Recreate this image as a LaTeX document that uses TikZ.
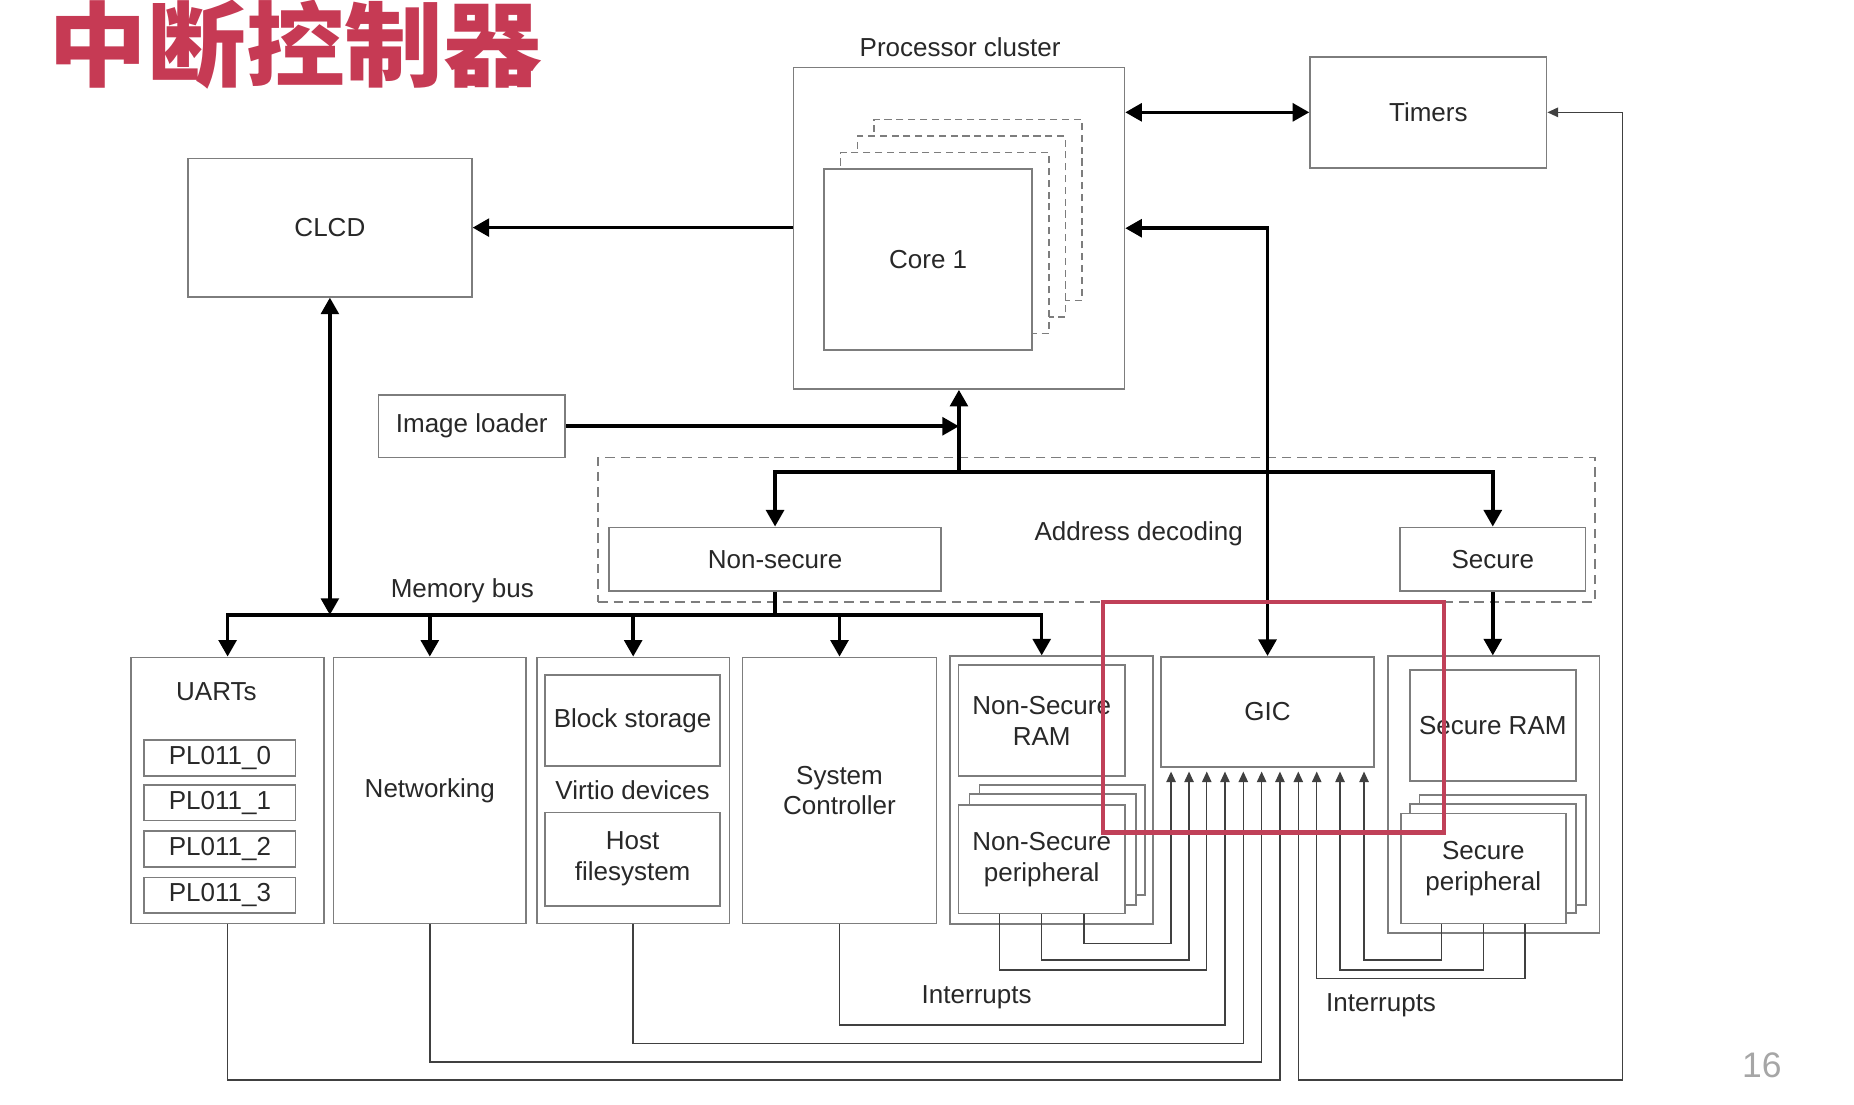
\documentclass[tikz,border=0pt]{standalone}
\usepackage{fontspec}
\setmainfont{Liberation Sans}
\newfontfamily\cjk{Noto Sans CJK SC}
\usetikzlibrary{arrows.meta,fit,calc}
\definecolor{titlered}{RGB}{198,58,84}
\definecolor{hlred}{RGB}{192,64,88}
\definecolor{boxgray}{RGB}{125,125,125}
\definecolor{txt}{RGB}{40,40,40}
\newcommand\mybox[6]{\node[box, minimum width={(#4-#2)*0.5pt}, minimum height={(#5-#3)*0.5pt}] (#1) at ({(#2+#4)/2},{(#3+#5)/2}) {#6};}
\begin{document}
\begin{tikzpicture}[x=0.5pt,y=-0.5pt,
  box/.style={draw=boxgray, line width=0.7pt, fill=white, inner sep=0pt, text=txt,
              font=\fontsize{11}{13}\selectfont, align=center},
  corebk/.style={draw=boxgray, dashed, dash pattern=on 3pt off 2pt, line width=0.6pt, fill=white, inner sep=0pt},
  dashbox/.style={draw=boxgray, dash pattern=on 4pt off 2.5pt, line width=0.7pt, inner sep=0pt},
  lbl/.style={text=txt, font=\fontsize{11}{13}\selectfont, inner sep=0pt},
  bus/.style={black, line width=1.5pt},
  bt/.style={-{Triangle[length=7pt,width=7.5pt]}},
  btt/.style={{Triangle[length=7pt,width=7.5pt]}-{Triangle[length=7pt,width=7.5pt]}},
  irq/.style={draw=black!75, line width=0.6pt},
  it/.style={-{Triangle[length=4.5pt,width=4pt]}},
  itt/.style={{Triangle[length=4.5pt,width=4pt]}-{Triangle[length=4.5pt,width=4pt]}},
]
\useasboundingbox (0,0) rectangle (1568,934);
\fill[white] (0,0) rectangle (1568,934);

% title
\node[font=\cjk\bfseries\fontsize{39}{39}\selectfont, text=titlered, anchor=base, inner sep=0pt, text height=0.82em, xscale=1.07] (title) at (250,67) {中断控制器};

% processor cluster
\node[lbl] (pclbl) at (812,40) {Processor cluster};
\mybox{pc}{671}{57}{951}{329}{}
\node[corebk, fit={(739,101) (915,254)}] (c3) {};
\node[corebk, fit={(725,115) (901,268)}] (c2) {};
\node[corebk, fit={(711,129) (887,282)}] (c1) {};
\mybox{core}{697}{143}{873}{296}{Core 1}

\mybox{timers}{1108}{48}{1308}{142}{Timers}
\mybox{clcd}{159}{134}{399}{251}{CLCD}
\mybox{il}{320}{334}{478}{387}{Image loader}

% address decoding
\node[dashbox, fit={(506,387) (1349,509)}] (ad) {};
\node[lbl] (adlbl) at (963,451) {Address decoding};
\mybox{ns}{515}{446}{796}{500}{Non-secure}
\mybox{sec}{1184}{446}{1341}{500}{Secure}
\node[lbl] (mblbl) at (391,500) {Memory bus};

% bottom row
\mybox{uart}{111}{556}{274}{781}{}
\node[lbl] (uartlbl) at (183,585) {UARTs};
\mybox{pl0}{122}{626}{250}{656}{PL011\_0}
\mybox{pl1}{122}{664}{250}{694}{PL011\_1}
\mybox{pl2}{122}{703}{250}{733}{PL011\_2}
\mybox{pl3}{122}{742}{250}{772}{PL011\_3}
\mybox{net}{282}{556}{445}{781}{Networking}
\mybox{virt}{454}{556}{617}{781}{}
\mybox{blk}{461}{571}{609}{648}{Block storage}
\node[lbl] (virtlbl) at (535,668) {Virtio devices};
\mybox{host}{461}{687}{609}{766}{Host\\filesystem}
\mybox{sys}{628}{556}{792}{781}{System\\Controller}
\mybox{nsmem}{803.5}{555}{975}{781.5}{}
\mybox{nsram}{810.5}{562.5}{951.5}{656.5}{Non-Secure\\RAM}
\mybox{nsp3}{828.3}{664}{968.4}{757}{}
\mybox{nsp2}{819.8}{671.5}{960.8}{765.4}{}
\mybox{nsp}{810.5}{681}{951.5}{772.5}{Non-Secure\\peripheral}
\mybox{gic}{982}{555.5}{1162}{648.5}{GIC}
\mybox{smem}{1173.6}{555}{1352.6}{789}{}
\mybox{sram}{1192.5}{566.6}{1332.6}{660.5}{Secure RAM}
\mybox{sp3}{1200.4}{672.4}{1341.3}{765.4}{}
\mybox{sp2}{1192.5}{680}{1332.9}{772.4}{}
\mybox{sp}{1184.6}{688}{1324.4}{781}{Secure\\peripheral}

% bus connectors
\draw[bus,bt] (pc.west |- clcd.east) -- (clcd.east);
\draw[bus,btt] (pc.east |- timers.west) -- (timers.west);
\draw[bus,btt] (gic.north) |- (pc.east);
\coordinate (dj) at (pc.south |- 0,399);
\draw[bus,bt] (dj) -- (pc.south);
\draw[bus,btt] (ns.north) -- (ns.north |- dj) -- (sec.north |- dj) -- (sec.north);
\draw[bus,bt] (il.east) -- (il.east -| dj);
\coordinate (busL) at (uart.north |- 0,520);
\coordinate (busR) at (nsram.north |- 0,520);
\draw[bus] (ns.south) -- (ns.south |- busL);
\draw[bus,btt] (uart.north) -- (busL) -- (busR) -- (nsram.north |- nsmem.north);
\draw[bus,bt] (net.north |- busL) -- (net.north);
\draw[bus,bt] (virt.north |- busL) -- (virt.north);
\draw[bus,bt] (sys.north |- busL) -- (sys.north);
\draw[bus,btt] (clcd.south) -- (clcd.south |- busL);
\draw[bus,bt] (sec.south) -- (sec.south |- smem.north);

% interrupt lines
\coordinate (g1) at (990.4,652.5);
\coordinate (g2) at (1005.6,652.5);
\coordinate (g3) at (1020.6,652.5);
\coordinate (g4) at (1036,652.5);
\coordinate (g5) at (1051.5,652.5);
\coordinate (g6) at (1067,652.5);
\coordinate (g7) at (1082.5,652.5);
\coordinate (g8) at (1098,652.5);
\coordinate (g9) at (1113.6,652.5);
\coordinate (g10) at (1133.3,652.5);
\coordinate (g11) at (1153.6,652.5);
\coordinate (na) at ($(nsp.south west)!0.25!(nsp.south east)$);
\coordinate (nb) at ($(nsp.south west)!0.5!(nsp.south east)$);
\coordinate (nc) at ($(nsp.south west)!0.75!(nsp.south east)$);
\coordinate (sa) at ($(sp.south west)!0.25!(sp.south east)$);
\coordinate (sb) at ($(sp.south west)!0.5!(sp.south east)$);
\coordinate (sc) at ($(sp.south west)!0.75!(sp.south east)$);
\coordinate (tcorner) at (1372,913.5);
\draw[irq,it] (nc) |- (g1 |- 0,798) -- (g1);
\draw[irq,it] (nb) |- (g2 |- 0,812) -- (g2);
\draw[irq,it] (na) |- (g3 |- 0,820.5) -- (g3);
\draw[irq,it] (sys.south) |- (g4 |- 0,867) -- (g4);
\draw[irq,it] (virt.south) |- (g5 |- 0,882.5) -- (g5);
\draw[irq,it] (net.south) |- (g6 |- 0,898) -- (g6);
\draw[irq,it] (uart.south) |- (g7 |- 0,913.5) -- (g7);
\draw[irq,itt] (g8) |- (tcorner) |- (timers.east);
\draw[irq,it] (sc) |- (g9 |- 0,827.5) -- (g9);
\draw[irq,it] (sb) |- (g10 |- 0,820.5) -- (g10);
\draw[irq,it] (sa) |- (g11 |- 0,812) -- (g11);
\node[lbl] (irq1) at (826,843) {Interrupts};
\node[lbl] (irq2) at (1168,850) {Interrupts};

% highlight
\node[draw=hlred, line width=1.8pt, inner sep=0pt, fit={(933,509) (1221,704)}] (hl) {};

% page number
\node[font=\fontsize{15}{15}\selectfont, text=black!35, inner sep=0pt] (pg) at (1490,901) {16};
\end{tikzpicture}
\end{document}
